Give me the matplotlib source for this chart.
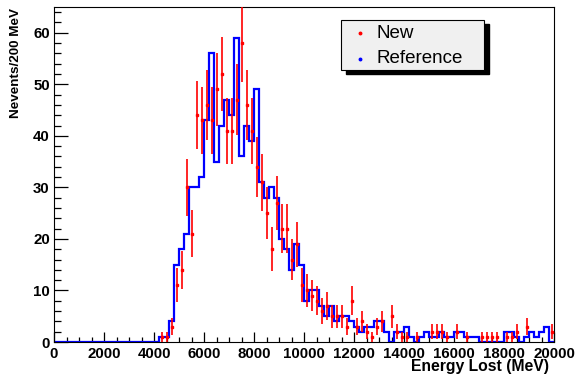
import numpy as np
import matplotlib
matplotlib.use("Agg")
import matplotlib.pyplot as plt
from matplotlib.patches import Rectangle
from matplotlib.lines import Line2D
from matplotlib.ticker import MultipleLocator

plt.rcParams['font.family'] = ['Liberation Sans', 'DejaVu Sans']

# 100 bins of 200 MeV from 0 to 20000
edges = np.arange(0, 20001, 200)

# reference histogram (blue), bin contents
ref_counts = [0] * 21 + [
    1, 1, 4, 15, 18, 21, 30, 30, 32, 43,
    56, 35, 42, 47, 44, 59, 36, 42, 39, 49,
    31, 28, 30, 28, 20, 18, 14, 19, 15, 8,
    10, 10, 7, 5, 7, 4, 5, 5, 4, 3,
    2, 3, 3, 4, 4, 2, 0, 2, 2, 3,
    1, 0, 1, 2, 1, 1, 2, 1, 1, 2,
    2, 1, 1, 1, 0, 0, 0, 0, 0, 2,
    2, 1, 0, 1, 2, 1, 2, 3, 0]

# new histogram (red points), bin contents
new_counts = [0] * 21 + [
    1, 1, 3, 11, 14, 30, 21, 44, 43, 46,
    43, 49, 52, 41, 41, 47, 58, 46, 41, 34,
    31, 25, 18, 27, 22, 22, 16, 19, 11, 10,
    9, 8, 6, 7, 5, 5, 5, 3, 8, 3,
    4, 2, 1, 3, 4, 0, 5, 2, 1, 1,
    0, 1, 0, 0, 2, 2, 2, 1, 0, 2,
    0, 1, 0, 0, 1, 1, 1, 1, 0, 1,
    1, 2, 0, 3, 0, 0, 0, 0, 2]

ref_counts = np.array(ref_counts)
new_counts = np.array(new_counts)
centers = 0.5 * (edges[:-1] + edges[1:])

fig = plt.figure(figsize=(5.75, 3.77), dpi=100)
ax = fig.add_axes([54 / 575, 35 / 377, 500 / 575, 335 / 377])

# reference as outline histogram
ax.stairs(ref_counts, edges, color='#0000ff', linewidth=1.6, zorder=2)

# new as points with sqrt(N) errors
m = new_counts > 0
ax.errorbar(centers[m], new_counts[m], yerr=np.sqrt(new_counts[m]),
            fmt='s', color='#ff0000', markersize=1.5, elinewidth=1.2,
            capsize=0, zorder=3)

ax.set_xlim(0, 20000)
ax.set_ylim(0, 65)

ax.xaxis.set_major_locator(MultipleLocator(2000))
ax.xaxis.set_minor_locator(MultipleLocator(500))
ax.yaxis.set_major_locator(MultipleLocator(10))
ax.yaxis.set_minor_locator(MultipleLocator(2))

ax.tick_params(axis='x', which='major', direction='in', length=7, width=0.9,
               labelsize=10.8, pad=3.5, top=False)
ax.tick_params(axis='x', which='minor', direction='in', length=3.6, width=0.9,
               top=False)
ax.tick_params(axis='y', which='major', direction='in', length=10, width=0.9,
               labelsize=10.8, pad=3, right=False)
ax.tick_params(axis='y', which='minor', direction='in', length=5, width=0.9,
               right=False)
for lab in ax.get_xticklabels() + ax.get_yticklabels():
    lab.set_fontweight('bold')
for s in ax.spines.values():
    s.set_linewidth(0.8)

fig.text(549 / 575, 1 - 367 / 377, 'Energy Lost (MeV)', ha='right', va='center',
         fontsize=11.3, fontweight='bold')
fig.text(16.5 / 575, 1 - 8 / 377, 'Nevents/200 MeV', ha='center', va='top',
         rotation=90, fontsize=9.7, fontweight='bold')

# legend box with shadow, ROOT style
W, H = 575.0, 377.0
x0, x1, y0, y1 = 341, 484, 20, 70
fig.add_artist(Rectangle((x0 / W + 5 / W, 1 - (y1 + 4) / H), (x1 - x0) / W, (y1 - y0) / H,
                         transform=fig.transFigure, facecolor='black',
                         edgecolor='black', zorder=10))
fig.add_artist(Rectangle((x0 / W, 1 - y1 / H), (x1 - x0) / W, (y1 - y0) / H,
                         transform=fig.transFigure, facecolor='#f0f0f0',
                         edgecolor='black', linewidth=0.8, zorder=11))
for yy, col, txt in [(33, '#ff0000', 'New'), (58.5, '#0000ff', 'Reference')]:
    fig.add_artist(Line2D([359.5 / W], [1 - yy / H], marker='o', markersize=1.8,
                          color=col, linestyle='none', transform=fig.transFigure,
                          zorder=12))
    fig.text(376.5 / W, 1 - yy / H, txt, ha='left', va='center', fontsize=13.5,
             zorder=12)

fig.savefig('out.png', dpi=100)
